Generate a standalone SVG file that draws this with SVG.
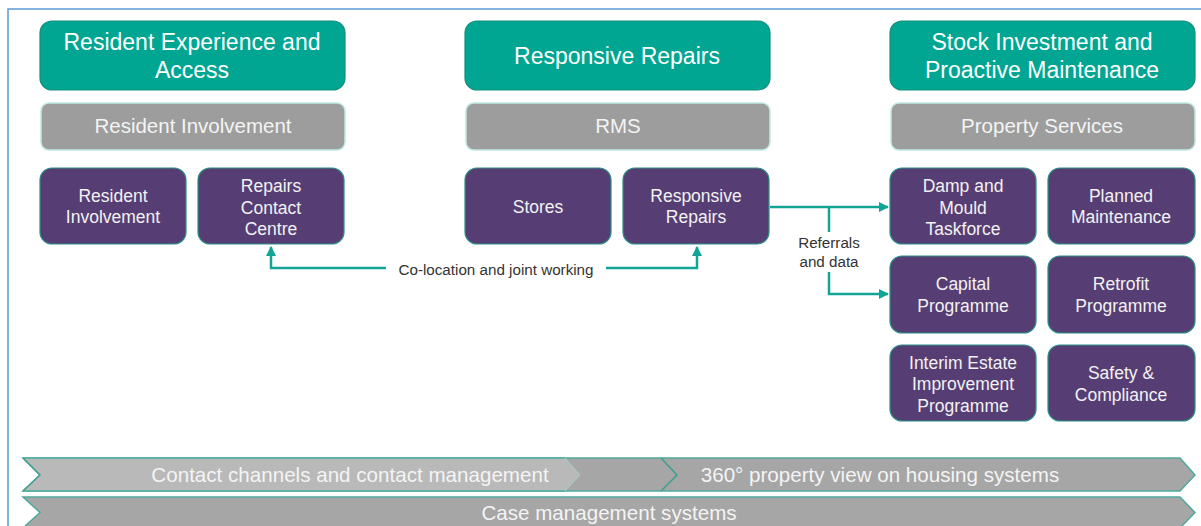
<svg xmlns="http://www.w3.org/2000/svg" width="1201" height="526" viewBox="0 0 1201 526">
  <defs>
    <style>
      text { font-family: "Liberation Sans", Arial, sans-serif; text-anchor: middle; }
      .head { fill: #00a691; stroke: #11907f; stroke-width: 1.2; }
      .head-t { fill: #ffffff; font-size: 23px; }
      .sub { fill: #9d9d9d; stroke: #bfe9e3; stroke-width: 1.5; }
      .sub-t { fill: #f4f4f4; font-size: 20.5px; }
      .unit { fill: #563e74; stroke: #2a8f86; stroke-width: 1.2; }
      .unit-t { fill: #f2f2f2; font-size: 17.5px; }
      .wire { fill: none; stroke: #12a596; stroke-width: 2.5; }
      .lbl { fill: #333333; font-size: 15.2px; }
      .band-t { fill: #f4f4f4; font-size: 20.6px; }
    </style>
    <marker id="tip" viewBox="0 0 10 10" refX="9" refY="5" markerWidth="4" markerHeight="4" orient="auto" markerUnits="strokeWidth">
      <path d="M0,0 L10,5 L0,10 z" fill="#12a596"/>
    </marker>
  </defs>

  <rect x="0" y="0" width="1201" height="526" fill="#ffffff"/>
  <!-- outer frame -->
  <rect x="8" y="9" width="1210" height="540" fill="none" stroke="#5b9bd5" stroke-width="1.5"/>

  <!-- column 1 -->
  <g id="resident-experience">
    <rect class="head" x="40" y="21" width="305" height="69" rx="12"/>
    <text class="head-t" x="192" y="50">Resident Experience and</text>
    <text class="head-t" x="192" y="78">Access</text>
  </g>
  <g id="resident-involvement-group">
    <rect class="sub" x="41" y="103" width="304" height="47" rx="8"/>
    <text class="sub-t" x="193" y="133">Resident Involvement</text>
  </g>
  <g id="resident-involvement">
    <rect class="unit" x="40" y="168" width="146" height="76" rx="12"/>
    <text class="unit-t" x="113" y="202">Resident</text>
    <text class="unit-t" x="113" y="223">Involvement</text>
  </g>
  <g id="repairs-contact-centre">
    <rect class="unit" x="198" y="168" width="146" height="76" rx="12"/>
    <text class="unit-t" x="271" y="192">Repairs</text>
    <text class="unit-t" x="271" y="213.5">Contact</text>
    <text class="unit-t" x="271" y="235">Centre</text>
  </g>

  <!-- column 2 -->
  <g id="responsive-repairs-head">
    <rect class="head" x="465" y="21" width="305" height="69" rx="12"/>
    <text class="head-t" x="617" y="64">Responsive Repairs</text>
  </g>
  <g id="rms">
    <rect class="sub" x="466" y="103" width="304" height="47" rx="8"/>
    <text class="sub-t" x="618" y="133">RMS</text>
  </g>
  <g id="stores">
    <rect class="unit" x="465" y="168" width="146" height="76" rx="12"/>
    <text class="unit-t" x="538" y="213">Stores</text>
  </g>
  <g id="responsive-repairs">
    <rect class="unit" x="623" y="168" width="146" height="76" rx="12"/>
    <text class="unit-t" x="696" y="202">Responsive</text>
    <text class="unit-t" x="696" y="223">Repairs</text>
  </g>

  <!-- column 3 -->
  <g id="stock-investment">
    <rect class="head" x="890" y="21" width="305" height="69" rx="12"/>
    <text class="head-t" x="1042" y="50">Stock Investment and</text>
    <text class="head-t" x="1042" y="78">Proactive Maintenance</text>
  </g>
  <g id="property-services">
    <rect class="sub" x="891" y="103" width="304" height="47" rx="8"/>
    <text class="sub-t" x="1042" y="133">Property Services</text>
  </g>
  <g id="damp-mould">
    <rect class="unit" x="890" y="168" width="146" height="76" rx="12"/>
    <text class="unit-t" x="963" y="192">Damp and</text>
    <text class="unit-t" x="963" y="213.5">Mould</text>
    <text class="unit-t" x="963" y="235">Taskforce</text>
  </g>
  <g id="planned-maintenance">
    <rect class="unit" x="1048" y="168" width="147" height="76" rx="12"/>
    <text class="unit-t" x="1121" y="202">Planned</text>
    <text class="unit-t" x="1121" y="223">Maintenance</text>
  </g>
  <g id="capital-programme">
    <rect class="unit" x="890" y="256" width="146" height="77" rx="12"/>
    <text class="unit-t" x="963" y="290">Capital</text>
    <text class="unit-t" x="963" y="311.5">Programme</text>
  </g>
  <g id="retrofit-programme">
    <rect class="unit" x="1048" y="256" width="147" height="77" rx="12"/>
    <text class="unit-t" x="1121" y="290">Retrofit</text>
    <text class="unit-t" x="1121" y="311.5">Programme</text>
  </g>
  <g id="interim-estate">
    <rect class="unit" x="890" y="345" width="146" height="76" rx="12"/>
    <text class="unit-t" x="963" y="368.5">Interim Estate</text>
    <text class="unit-t" x="963" y="390">Improvement</text>
    <text class="unit-t" x="963" y="411.5">Programme</text>
  </g>
  <g id="safety-compliance">
    <rect class="unit" x="1048" y="345" width="147" height="76" rx="12"/>
    <text class="unit-t" x="1121" y="379">Safety &amp;</text>
    <text class="unit-t" x="1121" y="400.5">Compliance</text>
  </g>

  <!-- connectors -->
  <g id="connectors">
    <path class="wire" d="M386,268 H271 V247" marker-end="url(#tip)"/>
    <path class="wire" d="M606,268 H697 V247" marker-end="url(#tip)"/>
    <text class="lbl" x="496" y="275">Co-location and joint working</text>

    <path class="wire" d="M770,207 H888" marker-end="url(#tip)"/>
    <path class="wire" d="M829,207 V232"/>
    <path class="wire" d="M829,272 V294 H888" marker-end="url(#tip)"/>
    <text class="lbl" x="829" y="248">Referrals</text>
    <text class="lbl" x="829" y="267">and data</text>
  </g>

  <!-- system bands -->
  <g id="band-property-view">
    <polygon points="23,458 1180,458 1195,475 1180,491 23,491 40,475" fill="#a6a6a6" stroke="#4fa99c" stroke-width="1.5"/>
    <polyline points="661,458 677,475 661,491" fill="none" stroke="#3e9e90" stroke-width="1.5"/>
    <text class="band-t" x="880" y="482">360° property view on housing systems</text>
  </g>
  <g id="band-contact-channels">
    <polygon points="23,458 565,458 580,475 565,491 23,491 40,475" fill="#b9b9b9" stroke="#9fd3cb" stroke-width="1"/>
    <polyline points="23,458 40,475 23,491" fill="none" stroke="#3e9e90" stroke-width="1.5"/>
    <line x1="23" y1="458" x2="565" y2="458" stroke="#4fa99c" stroke-width="1.5"/>
    <line x1="23" y1="491" x2="565" y2="491" stroke="#4fa99c" stroke-width="1.5"/>
    <text class="band-t" x="350" y="482">Contact channels and contact management</text>
  </g>
  <g id="band-case-management">
    <polygon points="23,497 1180,497 1195,512.5 1180,528 23,528 40,512.5" fill="#a6a6a6" stroke="#4fa99c" stroke-width="1.5"/>
    <text class="band-t" x="609" y="520">Case management systems</text>
  </g>
</svg>
